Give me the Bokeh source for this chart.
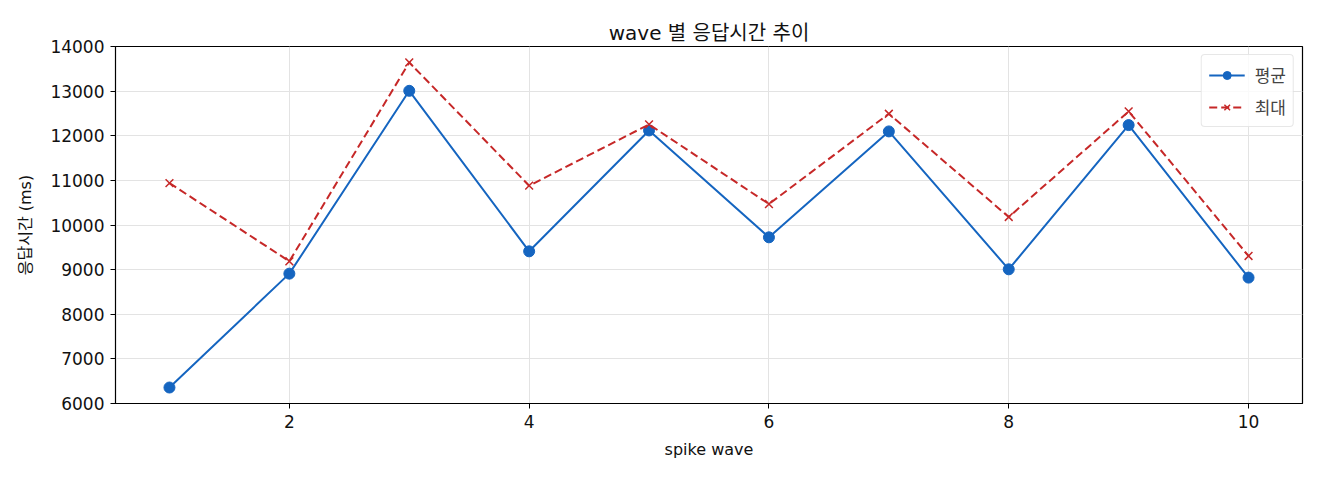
from bokeh.embed import file_html
from bokeh.models import FixedTicker, Range1d
from bokeh.plotting import figure
from bokeh.resources import INLINE

# Data
waves = [1, 2, 3, 4, 5, 6, 7, 8, 9, 10]
avg_ms = [6358, 8910, 13007, 9410, 12119, 9724, 12097, 9007, 12239, 8821]
max_ms = [10940, 9187, 13642, 10881, 12254, 10470, 12493, 10179, 12545, 9306]
x_ticks = [2, 4, 6, 8, 10]
y_ticks = [6000, 7000, 8000, 9000, 10000, 11000, 12000, 13000, 14000]

FONT = "'DejaVu Sans', 'Noto Sans CJK KR'"
BLUE = "#1565c0"
RED = "#c62828"

p = figure(
    width=1320,
    height=480,
    title="wave 별 응답시간 추이",
    x_range=Range1d(0.55, 10.45),
    y_range=Range1d(6000, 14000),
    x_axis_label="spike wave",
    y_axis_label="응답시간 (ms)",
    output_backend="svg",
    toolbar_location=None,
    min_border_left=115,
    min_border_right=18,
    min_border_top=46,
    min_border_bottom=77,
)

# Title
p.title.align = "center"
p.title.text_font = FONT
p.title.text_font_size = "20px"
p.title.text_font_style = "normal"
p.title.text_color = "#111111"
p.title.standoff = 4

# Frame and grid
p.outline_line_color = "black"
p.outline_line_alpha = 1
p.outline_line_width = 1.2
p.xgrid.grid_line_color = "#e3e3e3"
p.ygrid.grid_line_color = "#e3e3e3"

# Axes
p.xaxis.ticker = FixedTicker(ticks=x_ticks)
p.yaxis.ticker = FixedTicker(ticks=y_ticks)
for ax in (p.xaxis[0], p.yaxis[0]):
    ax.axis_line_color = "black"
    ax.major_tick_line_color = "black"
    ax.major_tick_out = 5
    ax.major_tick_in = 0
    ax.minor_tick_line_color = None
    ax.major_label_text_font = FONT
    ax.major_label_text_font_size = "17px"
    ax.major_label_text_color = "#111111"
    ax.axis_label_text_font = FONT
    ax.axis_label_text_font_size = "16px"
    ax.axis_label_text_font_style = "normal"
    ax.axis_label_text_color = "#111111"
    ax.major_label_standoff = 6
p.xaxis.axis_label_standoff = 9
p.yaxis.axis_label_standoff = 12

# Series
p.line(waves, avg_ms, color=BLUE, line_width=2, legend_label="평균")
p.scatter(waves, avg_ms, marker="circle", size=11, color=BLUE, legend_label="평균")
p.line(waves, max_ms, color=RED, line_width=2, line_dash="8 4", legend_label="최대")
p.scatter(waves, max_ms, marker="x", size=11, line_color=RED, line_width=1.5,
          legend_label="최대")

# Legend
p.legend.location = "top_right"
p.legend.label_text_font = FONT
p.legend.label_text_font_size = "17px"
p.legend.border_line_color = "#d0d0d0"
p.legend.border_radius = 4
p.legend.background_fill_alpha = 0.8
p.legend.margin = 8
p.legend.padding = 7
p.legend.spacing = 7
p.legend.glyph_width = 36
p.legend.glyph_height = 20
p.legend.label_height = 20
p.legend.label_standoff = 10

open("out.html", "w").write(file_html(p, INLINE))
